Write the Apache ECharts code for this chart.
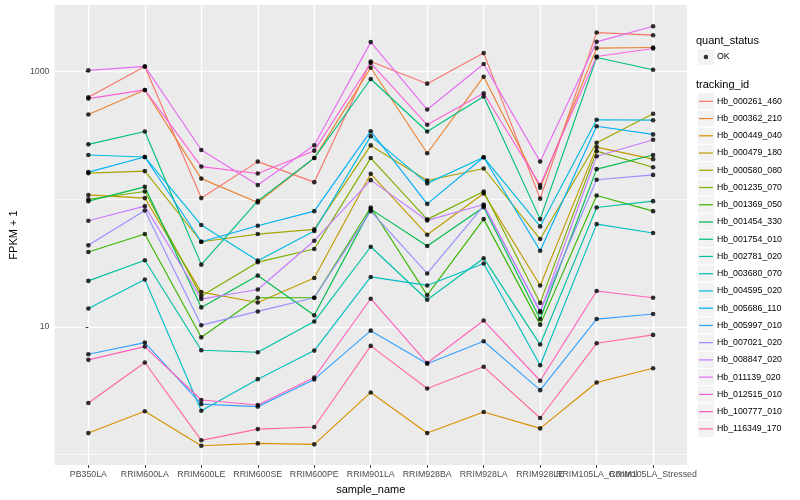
<!DOCTYPE html>
<html><head><meta charset="utf-8">
<script src="https://cdn.jsdelivr.net/npm/echarts@6/dist/echarts.min.js"></script>
<style>html,body{margin:0;padding:0;background:#fff}#c{width:800px;height:500px}</style>
</head><body><div id="c"></div>
<script>
const categories = ['PB350LA','RRIM600LA','RRIM600LE','RRIM600SE','RRIM600PE','RRIM901LA','RRIM928BA','RRIM928LA','RRIM928LE','RRIM105LA_Control','RRIM105LA_Stressed'];
const trackingIds = ['Hb_000261_460','Hb_000362_210','Hb_000449_040','Hb_000479_180','Hb_000580_080','Hb_001235_070','Hb_001369_050','Hb_001454_330','Hb_001754_010','Hb_002781_020','Hb_003680_070','Hb_004595_020','Hb_005686_110','Hb_005997_010','Hb_007021_020','Hb_008847_020','Hb_011139_020','Hb_012515_010','Hb_100777_010','Hb_116349_170'];

const Hb_000261_460 = [628, 1097, 102, 197, 136, 1200, 804, 1396, 101, 2022, 1928];
const Hb_000362_210 = [461, 718, 145, 94.2, 210, 1072, 229, 912, 123, 1527, 1543];
const Hb_000449_040 = [1.47, 2.18, 1.17, 1.22, 1.20, 3.06, 1.47, 2.15, 1.60, 3.66, 4.74];
const Hb_000479_180 = [108, 102, 18.7, 15.5, 24.1, 158, 52.6, 111, 21.1, 256, 206];
const Hb_000580_080 = [160, 166, 46.4, 53.3, 58.0, 264, 140, 174, 48.7, 277, 467];
const Hb_001235_070 = [100, 115, 17.4, 32.1, 40.7, 210, 69.5, 115, 15.4, 238, 178];
const Hb_001369_050 = [38.6, 53.3, 8.27, 16.9, 16.9, 86.1, 17.7, 69.8, 10.4, 107, 80.6];
const Hb_001454_330 = [96.5, 125, 14.2, 25.2, 12.3, 83.6, 43.0, 86.6, 11.5, 172, 222];
const Hb_001754_010 = [269, 339, 30.7, 97, 210, 875, 339, 637, 69.8, 1290, 1033];
const Hb_002781_020 = [22.9, 33.2, 6.55, 6.32, 11.0, 42.4, 16.3, 34.5, 7.26, 86.1, 96.5];
const Hb_003680_070 = [13.9, 23.5, 2.20, 3.89, 6.51, 24.6, 21.1, 31.3, 5.00, 63.8, 54.3];
const Hb_004595_020 = [222, 214, 62.7, 33.0, 56.3, 312, 133, 213, 61.2, 419, 416];
const Hb_005686_110 = [163, 214, 46.4, 61.9, 80.6, 341, 91.9, 213, 39.5, 373, 322];
const Hb_005997_010 = [6.10, 7.52, 2.48, 2.37, 3.87, 9.33, 5.13, 7.70, 3.19, 11.5, 12.6];
const Hb_007021_020 = [43.5, 81.6, 10.3, 13.2, 16.9, 80.6, 26.2, 88.7, 13.3, 142, 155];
const Hb_008847_020 = [67.7, 88.2, 16.5, 19.6, 47.3, 141, 68.2, 90.9, 13.0, 217, 292];
const Hb_011139_020 = [1021, 1097, 243, 129, 265, 1702, 504, 1146, 197, 1710, 2266];
const Hb_012515_010 = [614, 718, 180, 159, 240, 1167, 383, 676, 129, 1313, 1517];
const Hb_100777_010 = [5.51, 7.00, 2.67, 2.44, 4.01, 16.6, 5.2, 11.2, 3.78, 19.1, 16.9];
const Hb_116349_170 = [2.53, 5.25, 1.29, 1.58, 1.64, 7.09, 3.29, 4.86, 1.93, 7.43, 8.64];

const seriesValues = [Hb_000261_460, Hb_000362_210, Hb_000449_040, Hb_000479_180, Hb_000580_080, Hb_001235_070, Hb_001369_050, Hb_001454_330, Hb_001754_010, Hb_002781_020, Hb_003680_070, Hb_004595_020, Hb_005686_110, Hb_005997_010, Hb_007021_020, Hb_008847_020, Hb_011139_020, Hb_012515_010, Hb_100777_010, Hb_116349_170];

const yTickLabels = [10, 1000];
const yMinorTicks = [1, 10, 100, 1000];
const statusLabels = ['OK'];

const palette = ['#F8766D','#EA8331','#D89000','#C09B00','#A3A500','#7CAE00','#39B600','#00BB4E','#00BF7D','#00C1A3','#00BFC4','#00BAE0','#00B0F6','#35A2FF','#9590FF','#C77CFF','#E76BF3','#FA62DB','#FF62BC','#FF6C91'];

const FONT = 'Liberation Sans, Arial, Helvetica, sans-serif';
const yMin = 0.825, yMax = 3324;
const xIdx = categories.map((c, i) => i);
const evenIdx = xIdx.filter(i => i % 2 === 0);
const oddIdx = xIdx.filter(i => i % 2 === 1);

const series = seriesValues.map((vals, s) => ({
  type: 'line', name: trackingIds[s], color: palette[s],
  data: vals.map((v, i) => [i, v]),
  showSymbol: false, symbol: 'none',
  lineStyle: { width: 1.15, color: palette[s] },
  z: 2, silent: true
}));
const pts = [];
seriesValues.forEach(vals => vals.forEach((v, i) => pts.push([i, v])));
series.push({ type: 'scatter', name: statusLabels[0], data: pts, symbol: 'circle', symbolSize: 4.6,
  itemStyle: { color: '#000' }, color: '#000', z: 3, silent: true });

const keyW = 13.9, keyH = 17.24;
const linePath = 'path://M0,0 M13.9,17.24 M0,8.0 L13.9,8.0 L13.9,9.24 L0,9.24 Z';
const dotPath = 'path://M0,0 M13.9,17.24 M9.2,8.62 A2.26,2.26 0 1 1 4.68,8.62 A2.26,2.26 0 1 1 9.2,8.62 Z';

const graphic = [
  { type: 'text', x: 696, y: 40.7, z: 10, style: { text: 'quant_status', fontSize: 11, fontFamily: FONT, fill: '#000', verticalAlign: 'middle' } },
  { type: 'text', x: 696, y: 85, z: 10, style: { text: 'tracking_id', fontSize: 11, fontFamily: FONT, fill: '#000', verticalAlign: 'middle' } },
  { type: 'rect', z: 1, shape: { x: 697.3, y: 48.4, width: 17.28, height: 17.28 }, style: { fill: '#F2F2F2', stroke: '#fff', lineWidth: 1 } }
];
trackingIds.forEach((t, i) => {
  graphic.push({ type: 'rect', z: 1, shape: { x: 697.3, y: 92.7 + i * keyH, width: 17.28, height: keyH }, style: { fill: '#F2F2F2', stroke: '#fff', lineWidth: 1 } });
});

const legendCommon = { orient: 'vertical', left: 699, padding: 0, itemWidth: keyW, itemHeight: keyH, itemGap: 0,
  selectedMode: false, z: 5, itemStyle: { borderWidth: 0 },
  textStyle: { fontSize: 8.8, color: '#000', fontFamily: FONT, padding: [0, 0, 0, -1] } };

const xLabelStyle = { formatter: v => categories[Math.round(v)], color: '#4D4D4D', fontSize: 8.8, margin: 5, fontFamily: FONT,
  hideOverlap: false, showMinLabel: true, showMaxLabel: true };

const option = {
  animation: false,
  textStyle: { fontFamily: FONT },
  grid: { left: 45, right: 113, top: 5, bottom: 33, show: true, backgroundColor: '#EBEBEB', borderWidth: 0, containLabel: false },
  xAxis: [{
    type: 'value', min: -0.6, max: 10.6, position: 'bottom',
    name: 'sample_name', nameLocation: 'middle', nameGap: 15,
    nameTextStyle: { fontSize: 11, color: '#000', fontFamily: FONT, verticalAlign: 'top' },
    axisLine: { show: false },
    axisTick: { show: true, length: 2.75, customValues: xIdx, lineStyle: { color: '#333', width: 1 } },
    axisLabel: Object.assign({ customValues: evenIdx }, xLabelStyle),
    splitLine: { show: true, lineStyle: { color: '#fff', width: 1.4 } }
  }, {
    type: 'value', min: -0.6, max: 10.6, position: 'bottom', offset: 0,
    axisLine: { show: false },
    axisTick: { show: false, customValues: oddIdx },
    axisLabel: Object.assign({ customValues: oddIdx }, xLabelStyle),
    splitLine: { show: false }
  }],
  yAxis: [{
    type: 'log', min: yMin, max: yMax, position: 'left',
    name: 'FPKM + 1', nameLocation: 'middle', nameGap: 28, nameRotate: 90,
    nameTextStyle: { fontSize: 11, color: '#000', fontFamily: FONT },
    axisLine: { show: false },
    axisTick: { show: true, length: 2.75, customValues: yTickLabels, lineStyle: { color: '#333', width: 1 } },
    axisLabel: { customValues: yTickLabels, formatter: v => String(Math.round(v)), color: '#4D4D4D', fontSize: 8.8, margin: 5, fontFamily: FONT,
      showMinLabel: true, showMaxLabel: true },
    splitLine: { show: true, lineStyle: { color: '#fff', width: 1.4 } }
  }, {
    type: 'log', min: yMin, max: yMax, position: 'left',
    axisLine: { show: false }, axisTick: { show: false, customValues: yMinorTicks }, axisLabel: { show: false },
    splitLine: { show: true, lineStyle: { color: '#fff', width: 0.7 } }
  }],
  legend: [
    Object.assign({}, legendCommon, { data: statusLabels, top: 48.4, icon: dotPath }),
    Object.assign({}, legendCommon, { data: trackingIds, top: 92.7, icon: linePath })
  ],
  graphic: graphic,
  series: series
};
const chart = echarts.init(document.getElementById('c'), null, { renderer: 'canvas' });
chart.setOption(option);
</script>
</body></html>
